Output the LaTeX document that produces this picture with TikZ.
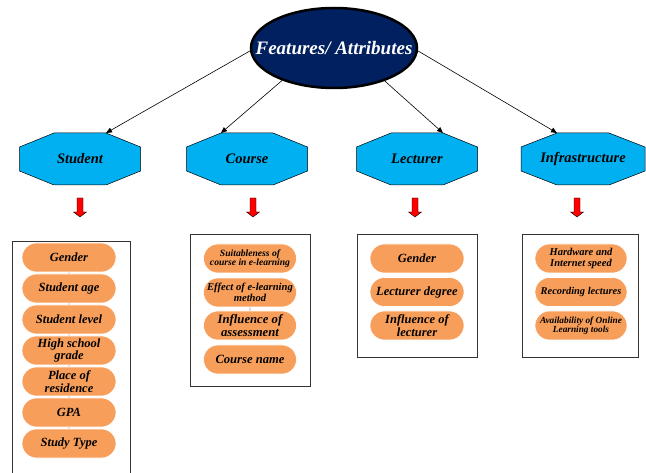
\documentclass[tikz,border=0pt]{standalone}
\usepackage{fontspec}
\setmainfont{Liberation Serif}
\usetikzlibrary{positioning, arrows.meta, shapes.geometric, shapes.misc}

\definecolor{navy}{RGB}{0,32,96}
\definecolor{skycyan}{RGB}{0,176,240}
\definecolor{pillorange}{RGB}{247,158,90}

\begin{document}
\begin{tikzpicture}[x=1pt, y=-1pt,
	head/.style={ellipse, draw=black, line width=2.5pt, fill=navy,
		minimum width=166pt, minimum height=80pt, inner sep=0pt},
	headtext/.style={inner sep=0pt, text=white, font=\fontsize{19}{19}\selectfont\bfseries\itshape},
	octa/.style={draw=black, line width=0.5pt, fill=skycyan},
	octlabel/.style={inner sep=0pt, font=\fontsize{14.5}{14.5}\selectfont\bfseries\itshape},
	link/.style={-{Triangle[length=6pt,width=5pt]}, line width=0.6pt},
	redarrow/.style={draw=black, line width=0.4pt, fill=red},
	panel/.style={draw=black!80, line width=0.7pt},
	pill/.style={rounded rectangle, draw=white, line width=0.6pt, fill=pillorange,
		minimum height=29pt, inner sep=1pt, align=center,
		font=\fontsize{#1}{#1}\selectfont\bfseries\itshape},
	pill/.default=12.5,
	tick/.style={draw=black!40, line width=0.8pt}
]
\useasboundingbox (0,0) rectangle (646,473);

	% Nodo central
	\node[head, label={[headtext]center:Features/ Attributes}] (feat) at (334,48) {};

	% Categorias (octagonos)
	\foreach \n/\x/\w/\t in {stu/80/60.5/Student, crs/247/60.5/Course, lec/417/60.5/Lecturer, inf/583/62/Infrastructure} {
		\draw[octa] (\x-\w,147) -- (\x-26,133) -- (\x+26,133) -- (\x+\w,147) -- (\x+\w,171) -- (\x+26,185) -- (\x-26,185) -- (\x-\w,171) -- cycle;
		\node[octlabel] (\n) at (\x,159) {\t};
		\coordinate (\n-tl) at (\x-26,133);
		\coordinate (\n-tr) at (\x+26,133);
	}

	% Flechas desde el nodo central
	\draw[link] (feat.182) -- (stu-tr);
	\draw[link] (feat.212) -- (crs-tl);
	\draw[link] (feat.327) -- (lec-tr);
	\draw[link] (feat.358) -- (inf-tl);

	% Flechas rojas
	\foreach \x in {80,253,415,577} {
		\draw[redarrow] (\x-3,198) -- (\x+3,198) -- (\x+3,212) -- (\x+6.5,212) -- (\x,217) -- (\x-6.5,212) -- (\x-3,212) -- cycle;
	}

	% Marcos
	\draw[panel] (12,241) rectangle (130,475);
	\draw[panel] (190,234) rectangle (310,386);
	\draw[panel] (357,234) rectangle (477,357);
	\draw[panel] (522,234) rectangle (638,357);

	% Student
	\foreach \t [count=\i] in {Gender, Student age, Student level, {High school\\grade}, {Place of\\residence}, GPA, Study Type} {
		\node[pill, minimum width=96pt] (stu\i) at (69,257.5+31*\i-31) {\t};
	}
	\foreach \i [evaluate=\i as \j using int(\i+1)] in {1,...,6} {
		\draw[tick] (stu\i) -- (stu\j);
	}

	% Course
	\foreach \t/\s/\y [count=\i] in {{Suitableness of\\course in e-learning}/9.6/258.5, {Effect of e-learning\\method}/10.6/292.5, {Influence of\\assessment}/12.7/325.5, Course name/12.6/359.5} {
		\node[pill=\s, minimum width=95pt] (crs\i) at (250,\y) {\t};
	}
	\draw[tick] (crs2) -- (crs3);

	% Lecturer
	\foreach \t [count=\i] in {Gender, Lecturer degree, {Influence of\\lecturer}} {
		\node[pill, minimum width=96pt] (lec\i) at (417,258.5+33.5*\i-33.5) {\t};
	}

	% Infrastructure
	\foreach \t/\s [count=\i] in {{Hardware and\\Internet speed}/10.5, Recording lectures/10.4, {Availability of Online\\Learning tools}/9.3} {
		\node[pill=\s, minimum width=94pt] (inf\i) at (581,258.5+33.5*\i-33.5) {\t};
	}

\end{tikzpicture}
\end{document}
